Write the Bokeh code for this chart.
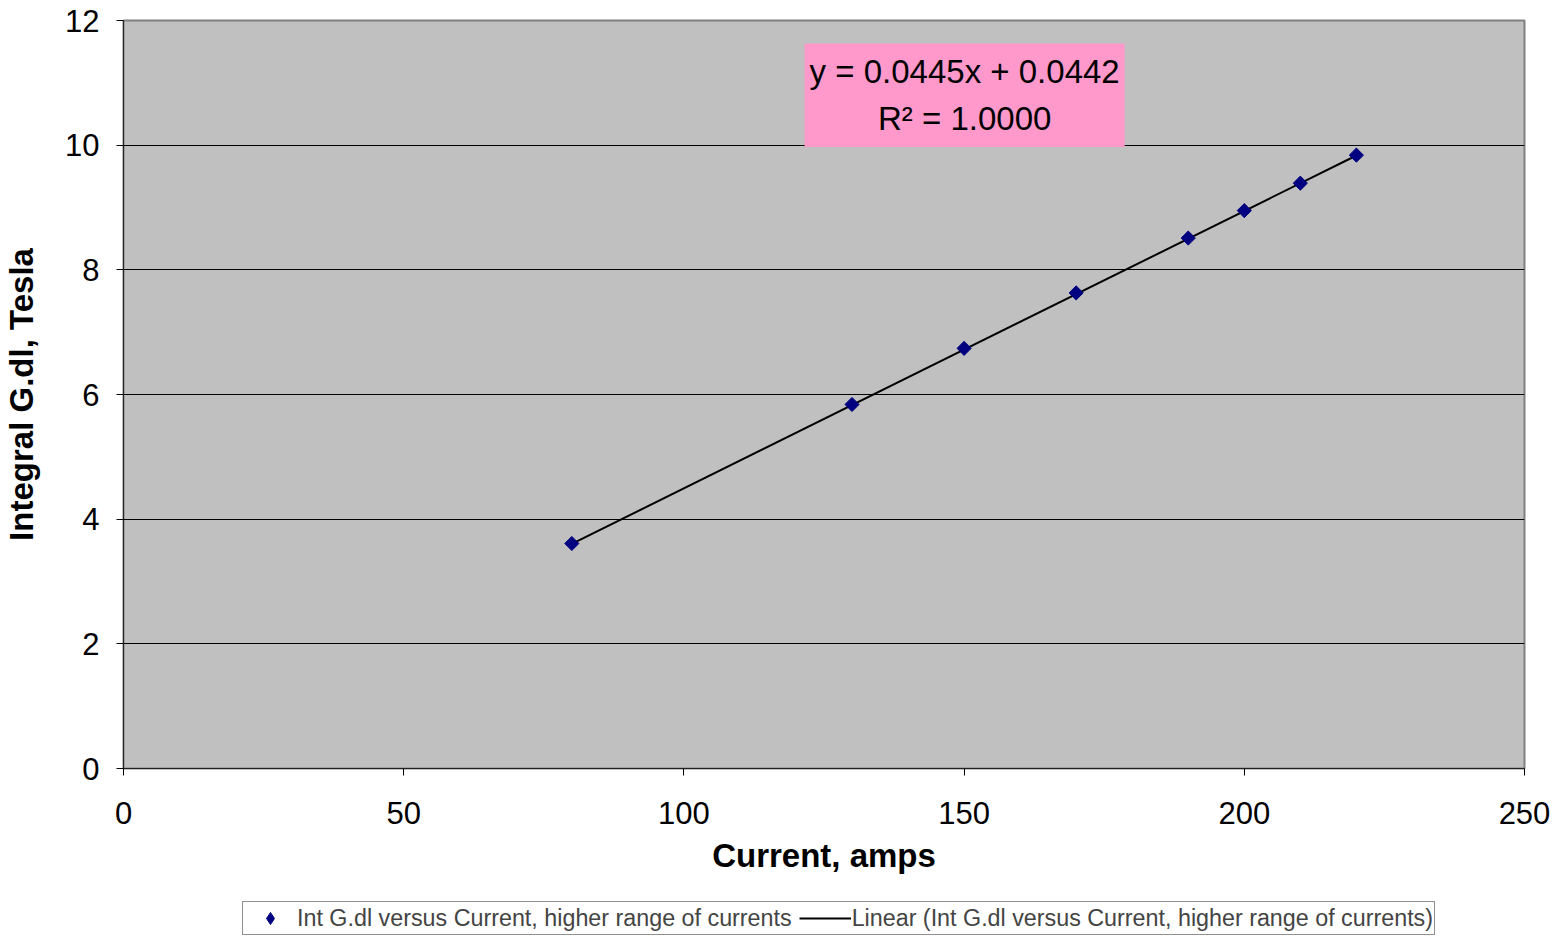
import math
from bokeh.plotting import figure
from bokeh.layouts import column
from bokeh.models import Label, Legend, LegendItem, Range1d, FixedTicker
from bokeh.embed import file_html
from bokeh.resources import INLINE

# Data
current = [80, 130, 150, 170, 190, 200, 210, 220]
int_gdl = [3.61, 5.84, 6.74, 7.63, 8.51, 8.95, 9.39, 9.84]
slope = 0.0445
intercept = 0.0442
x_ticks = [0, 50, 100, 150, 200, 250]
y_ticks = [0, 2, 4, 6, 8, 10, 12]
series_name = "Int G.dl versus Current, higher range of currents"
fit_name = "Linear (Int G.dl versus Current, higher range of currents)"
eq_text = "y = 0.0445x + 0.0442\nR² = 1.0000"

FONT = "Liberation Sans"
NAVY = "#000080"
LINE = dict(line_color="black", line_width=2)

p = figure(width=1562, height=900, output_backend="svg", toolbar_location=None,
           x_range=Range1d(0, 250), y_range=Range1d(0, 12),
           min_border_left=0, min_border_right=38, min_border_top=20,
           min_border_bottom=132)
p.background_fill_color = "#C0C0C0"
p.border_fill_color = "white"
p.outline_line_color = "#808080"
p.outline_line_width = 2

# Axes
for ax in (p.xaxis[0], p.yaxis[0]):
    ax.major_label_text_font = FONT
    ax.major_label_text_font_size = "31px"
    ax.major_label_text_color = "black"
    ax.axis_label_text_font = FONT
    ax.axis_label_text_font_size = "33px"
    ax.axis_label_text_font_style = "bold"
    ax.axis_label_text_color = "black"
    ax.axis_line_color = "#222222"
    ax.major_tick_line_color = "black"
    ax.major_tick_in = 0
    ax.major_tick_out = 7
    ax.minor_tick_line_color = None

p.xaxis.ticker = FixedTicker(ticks=x_ticks)
p.yaxis.ticker = FixedTicker(ticks=y_ticks)
p.xaxis.axis_label = "Current, amps"
p.yaxis.axis_label = "Integral G.dl, Tesla"
p.xaxis.major_label_standoff = 26
p.xaxis.axis_label_standoff = 10
p.yaxis.major_label_standoff = 17
p.yaxis.axis_label_standoff = 22

p.xgrid.grid_line_color = None
p.ygrid.grid_line_color = "black"
p.ygrid.grid_line_width = 1

# Trendline
fx = [min(current), max(current)]
fy = [slope * v + intercept for v in fx]
line_r = p.line(fx, fy, **LINE)

# Points
pts = p.scatter(current, int_gdl, marker="square", size=10, angle=math.pi / 4,
                fill_color=NAVY, line_color=NAVY)

# Equation box
lab = Label(x=150.1, y=10.8, text=eq_text, text_align="center", text_baseline="middle",
            text_font=FONT, text_font_size="33px", text_color="black",
            background_fill_color="#FF99CC", padding=(5, 10), text_line_height=1.26)
p.add_layout(lab)

# Legend strip below the chart (its frame is aligned with the chart's frame)
lg = figure(width=1562, height=36, output_backend="svg", toolbar_location=None,
            x_range=Range1d(0, 1), y_range=Range1d(0, 1),
            x_axis_type=None, y_axis_type=None,
            min_border_left=0, min_border_right=0, min_border_top=0, min_border_bottom=0)
lg.grid.visible = False
lg.outline_line_color = None
lg.background_fill_color = "white"
# off-view samples, only used to draw the legend glyphs
lg_pts = lg.scatter([-5], [-5], marker="diamond", size=15,
                    fill_color=NAVY, line_color=NAVY)
lg_line = lg.line([-6, -5], [-5, -5], **LINE)

legend = Legend(items=[LegendItem(label=series_name, renderers=[lg_pts]),
                       LegendItem(label=fit_name, renderers=[lg_line])],
                orientation="horizontal", location=(119, 1),
                label_text_font=FONT, label_text_font_size="23.3px",
                border_line_color="#222222", border_line_width=1,
                background_fill_color="white", background_fill_alpha=1,
                glyph_width=52, glyph_height=30, label_standoff=1, spacing=7,
                padding=1, margin=0)
lg.add_layout(legend, "center")

open("out.html", "w").write(file_html(column(p, lg, spacing=0), INLINE))
